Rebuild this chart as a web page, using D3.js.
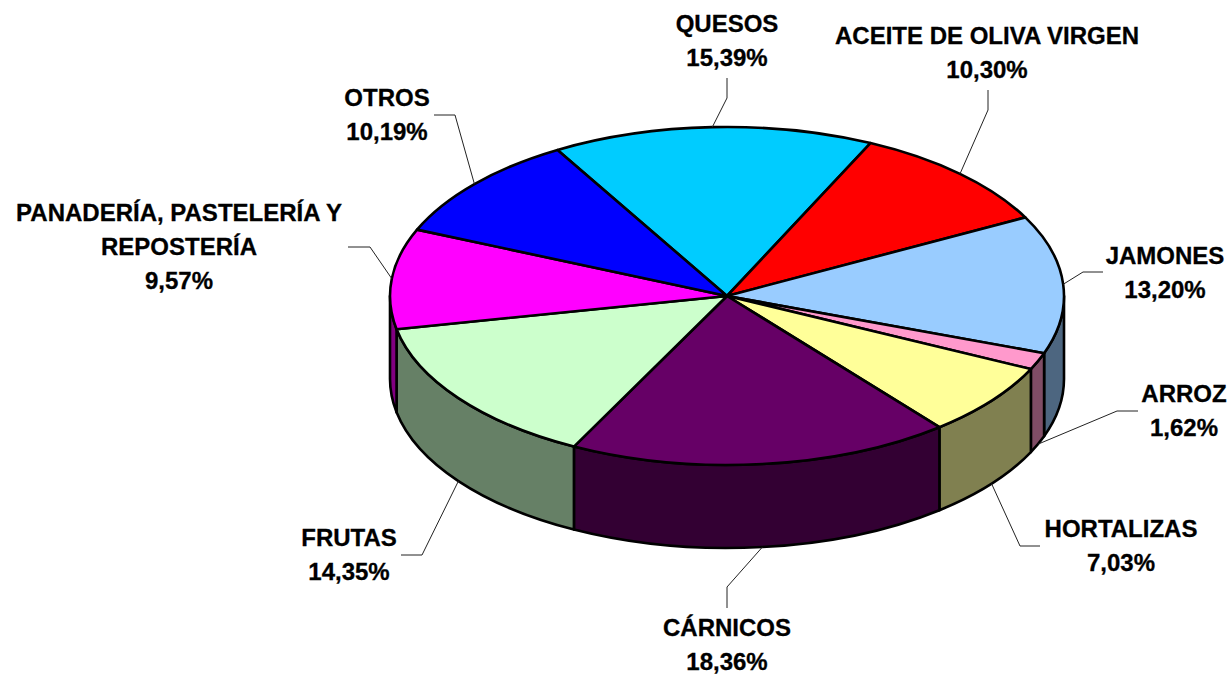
<!DOCTYPE html>
<html><head><meta charset="utf-8">
<script src="https://cdnjs.cloudflare.com/ajax/libs/d3/7.8.5/d3.min.js"></script>
<style>html,body{margin:0;background:#fff}svg{display:block}</style></head>
<body><svg id="c" width="1232" height="675"></svg>
<script>
const categories = ["QUESOS","ACEITE DE OLIVA VIRGEN","JAMONES","ARROZ","HORTALIZAS","CÁRNICOS","FRUTAS","PANADERÍA, PASTELERÍA Y REPOSTERÍA","OTROS"];
const values = [15.39,10.30,13.20,1.62,7.03,18.36,14.35,9.57,10.19];
const valueLabels = ["15,39%","10,30%","13,20%","1,62%","7,03%","18,36%","14,35%","9,57%","10,19%"];
const topColors = ["#00CCFF","#FF0000","#99CCFF","#FF99CC","#FFFF99","#660066","#CCFFCC","#FF00FF","#0000FF"];
const sideColors = ["#006680","#800000","#4D6680","#804D66","#808050","#330033","#668066","#800080","#000080"];
const labelLines = [["QUESOS"],["ACEITE DE OLIVA VIRGEN"],["JAMONES"],["ARROZ"],["HORTALIZAS"],["CÁRNICOS"],["FRUTAS"],["PANADERÍA, PASTELERÍA Y","REPOSTERÍA"],["OTROS"]];
// layout: label centre, first baseline, leader end and elbow
const labelLayout = [
 {x:727,y:32,end:[727,78],elbow:[727,98]},
 {x:987,y:44,end:[988,90],elbow:[988,110]},
 {x:1165,y:264,end:[1103,272],elbow:[1083,272]},
 {x:1184,y:402,end:[1138,411],elbow:[1117,411]},
 {x:1121,y:537,end:[1040,546],elbow:[1020,546]},
 {x:727,y:636,end:[727,608],elbow:[727,587]},
 {x:349,y:546,end:[401,555],elbow:[422,555]},
 {x:179,y:221,end:[348,247],elbow:[370,247]},
 {x:387,y:106,end:[434,115],elbow:[455,115]}
];
const cx=727, cy=296, rx=337, ry=169, depth=83;
const sx=d3.scaleLinear().domain([-1,1]).range([cx-rx,cx+rx]);
const sy=d3.scaleLinear().domain([-1,1]).range([cy-ry,cy+ry]);
const px=a=>sx(Math.sin(a)), py=a=>sy(-Math.cos(a));
const rad=d=>d*Math.PI/180;
const start=rad(-30.2);
const arcs=d3.pie().sort(null).startAngle(start).endAngle(start+2*Math.PI)(values);
const svg=d3.select("#c");
function arcTo(a,dy,sweep){return `A${rx},${ry} 0 ${0} ${sweep} ${px(a)},${py(a)+dy}`;}
function subArc(a0,a1,dy,sweep){
  const n=Math.ceil(Math.abs(a1-a0)/(Math.PI/2)); let s="";
  for(let i=1;i<=n;i++){s+=arcTo(a0+(a1-a0)*i/n,dy,sweep);} return s;
}
// outer walls: only the part of each slice rim that faces the viewer
const walls=[];
arcs.forEach((d,i)=>{
  [[Math.PI/2,3*Math.PI/2],[Math.PI/2+2*Math.PI,3*Math.PI/2+2*Math.PI],[Math.PI/2-2*Math.PI,3*Math.PI/2-2*Math.PI]].forEach(([lo,hi])=>{
    const a0=Math.max(d.startAngle,lo), a1=Math.min(d.endAngle,hi);
    if(a1>a0) walls.push({a0,a1,i});
  });
});
svg.append("g").selectAll("path").data(walls).join("path")
  .attr("d",w=>`M${px(w.a0)},${py(w.a0)}`+subArc(w.a0,w.a1,0,1)+`L${px(w.a1)},${py(w.a1)+depth}`+subArc(w.a1,w.a0,depth,0)+"Z")
  .attr("fill",w=>sideColors[w.i]).attr("stroke","#000").attr("stroke-width",2.6).attr("stroke-linejoin","round");
svg.append("g").selectAll("path").data(arcs).join("path")
  .attr("d",d=>`M${cx},${cy}L${px(d.startAngle)},${py(d.startAngle)}`+subArc(d.startAngle,d.endAngle,0,1)+"Z")
  .attr("fill",(d,i)=>topColors[i]).attr("stroke","#000").attr("stroke-width",2.6).attr("stroke-linejoin","round");
// leaders
const line=d3.line();
svg.append("g").selectAll("path").data(arcs).join("path")
  .attr("d",(d,i)=>{
    const m=(d.startAngle+d.endAngle)/2, L=labelLayout[i];
    const front=Math.cos(m)<0 && i!==2;
    return line([L.end,L.elbow,[px(m),py(m)+(front?depth:0)]]);
  })
  .attr("fill","none").attr("stroke","#222").attr("stroke-width",1);
// labels
const g=svg.append("g").attr("font-family","'Liberation Sans',Arial,sans-serif").attr("font-weight","bold").attr("font-size",24).attr("fill","#000").attr("stroke","#000").attr("stroke-width",0.3).attr("text-anchor","middle");
categories.forEach((c,i)=>{
  const L=labelLayout[i], lines=[...labelLines[i],valueLabels[i]];
  lines.forEach((t,j)=>g.append("text").attr("x",L.x).attr("y",L.y+j*33.8).text(t));
});
</script></body></html>
